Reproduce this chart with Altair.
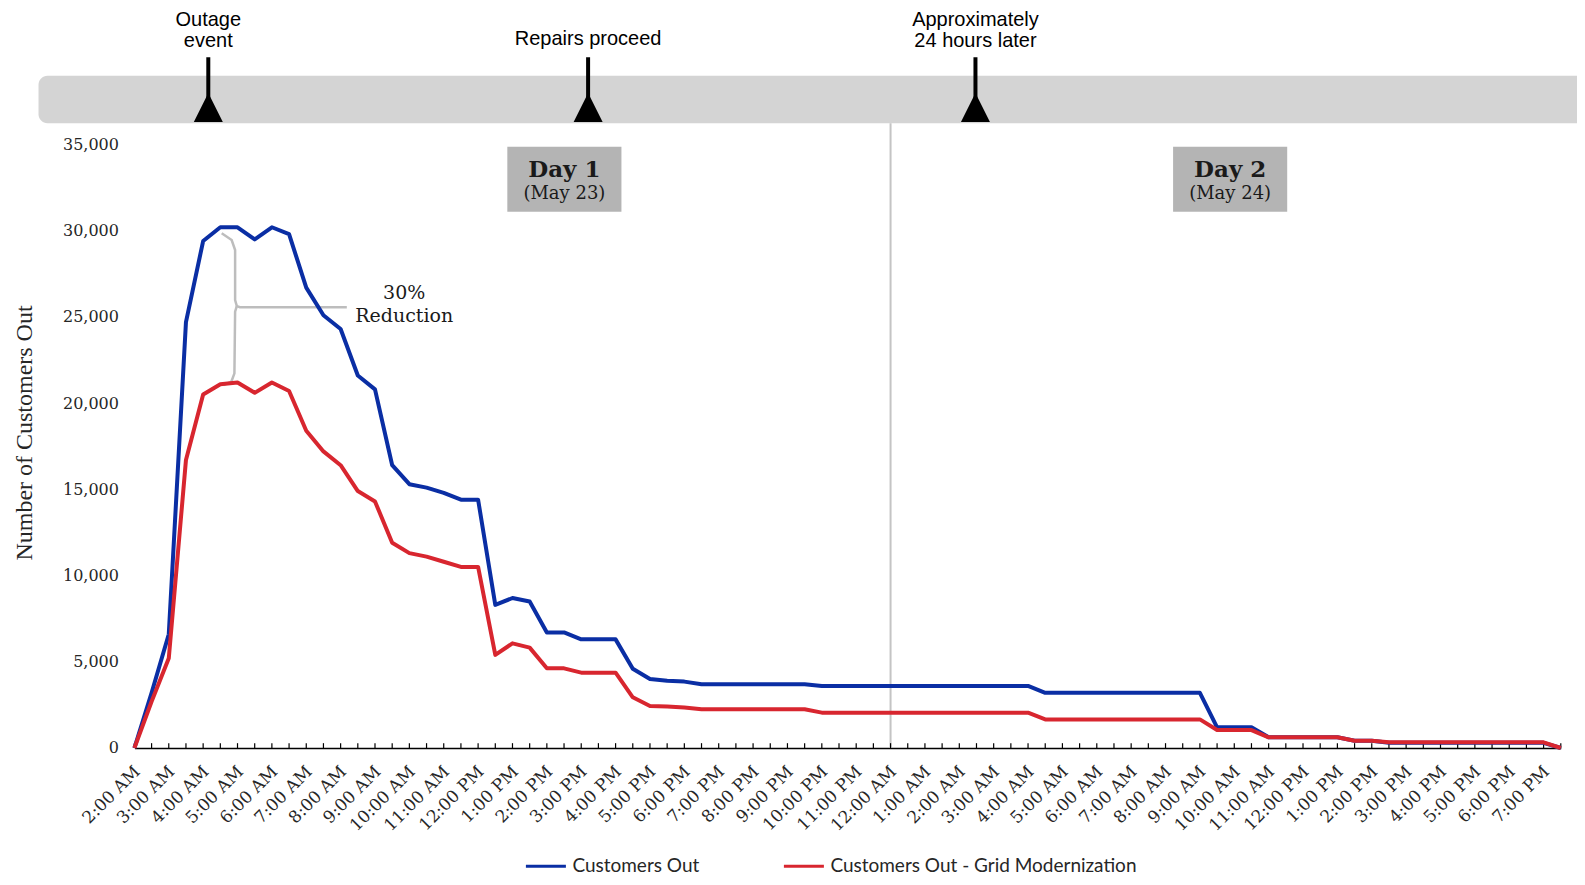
import json
import altair as alt
import pandas as pd

# ---------------- data ----------------
HOUR_LABELS = [
    "2:00 AM", "3:00 AM", "4:00 AM", "5:00 AM", "6:00 AM", "7:00 AM", "8:00 AM",
    "9:00 AM", "10:00 AM", "11:00 AM", "12:00 PM", "1:00 PM", "2:00 PM", "3:00 PM",
    "4:00 PM", "5:00 PM", "6:00 PM", "7:00 PM", "8:00 PM", "9:00 PM", "10:00 PM",
    "11:00 PM", "12:00 AM", "1:00 AM", "2:00 AM", "3:00 AM", "4:00 AM", "5:00 AM",
    "6:00 AM", "7:00 AM", "8:00 AM", "9:00 AM", "10:00 AM", "11:00 AM", "12:00 PM",
    "1:00 PM", "2:00 PM", "3:00 PM", "4:00 PM", "5:00 PM", "6:00 PM", "7:00 PM",
]

# half-hourly readings starting 2:00 AM May 23
CUSTOMERS_OUT = [
    0, 3200, 6600, 24700, 29400, 30200, 30200, 29500, 30200, 29800,
    26700, 25100, 24300, 21600, 20800, 16400, 15300, 15100, 14800, 14400,
    14400, 8300, 8700, 8500, 6700, 6700, 6300, 6300, 6300, 4600,
    4000, 3900, 3850, 3700, 3700, 3700, 3700, 3700, 3700, 3700,
    3600, 3600, 3600, 3600, 3600, 3600, 3600, 3600, 3600, 3600,
    3600, 3600, 3600, 3200, 3200, 3200, 3200, 3200, 3200, 3200,
    3200, 3200, 3200, 1200, 1200, 1200, 620, 620, 620, 620,
    620, 420, 420, 300, 300, 300, 300, 300, 300, 300,
    300, 300, 300, 0,
]
CUSTOMERS_OUT_GRID = [
    0, 2700, 5200, 16700, 20500, 21100, 21200, 20600, 21200, 20700,
    18400, 17200, 16400, 14900, 14300, 11900, 11300, 11100, 10800, 10500,
    10500, 5400, 6070, 5820, 4620, 4620, 4370, 4370, 4370, 2940,
    2440, 2400, 2350, 2250, 2250, 2250, 2250, 2250, 2250, 2250,
    2050, 2050, 2050, 2050, 2050, 2050, 2050, 2050, 2050, 2050,
    2050, 2050, 2050, 1660, 1660, 1660, 1660, 1660, 1660, 1660,
    1660, 1660, 1660, 1040, 1040, 1040, 620, 620, 620, 620,
    620, 420, 420, 330, 330, 330, 330, 330, 330, 330,
    330, 330, 330, 0,
]
SERIES_NAMES = ["Customers Out", "Customers Out - Grid Modernization"]
SERIES_COLORS = ["#0a2ea4", "#d8262f"]

Y_TICKS = [0, 5000, 10000, 15000, 20000, 25000, 30000, 35000]

EVENT_TEXT = ["Outage", "event", "Repairs proceed", "Approximately", "24 hours later"]
EVENT_TEXT_HOUR = [2.15, 2.15, 13.2, 24.47, 24.47]
EVENT_TEXT_LEVEL = [42230, 40980, 41090, 42230, 40980]
EVENT_HOURS = [2.15, 13.2, 24.47]

DAY_TITLES = ["Day 1", "Day 2"]
DAY_DATES = ["(May 23)", "(May 24)"]
DAY_CENTERS = [12.51, 31.88]
MIDNIGHT_HOUR = 22

REDUCTION_TEXT = ["30%", "Reduction"]

# ---------------- tables ----------------
n = len(CUSTOMERS_OUT)
hours = [i * 0.5 for i in range(n)]
lines_df = pd.DataFrame({
    "hour": hours + hours,
    "customers": CUSTOMERS_OUT + CUSTOMERS_OUT_GRID,
    "series": [SERIES_NAMES[0]] * n + [SERIES_NAMES[1]] * n,
})
ticks_df = pd.DataFrame({"hour": hours})
events_df = pd.DataFrame({"hour": EVENT_HOURS})
event_text_df = pd.DataFrame({"hour": EVENT_TEXT_HOUR, "level": EVENT_TEXT_LEVEL, "label": EVENT_TEXT})
days_df = pd.DataFrame({"center": DAY_CENTERS, "title": DAY_TITLES, "date": DAY_DATES})
days_df["x1"] = days_df["center"] - 1.66
days_df["x2"] = days_df["center"] + 1.66

brace_df = pd.DataFrame({
    "hour": [2.54, 2.83, 2.93, 2.93, 2.98, 3.07, 6.18,
             2.98, 2.93, 2.91, 2.82, 2.59],
    "level": [29850, 29460, 28880, 25980, 25630, 25560, 25560,
              25630, 25300, 21730, 21240, 21050],
    "part": [0] * 7 + [1] * 5,
    "seq": list(range(7)) + list(range(5)),
})
reduction_df = pd.DataFrame({"hour": [7.85, 7.85], "level": [26380, 25030], "label": REDUCTION_TEXT})

# ---------------- scales & axes (shared by every layer) ----------------
SERIF = "DejaVu Serif"
SANS = "Liberation Sans"
TXT = "#262626"

XS = alt.Scale(domain=[0, 41.5], nice=False, zero=False)
YS = alt.Scale(domain=[0, 35000], nice=False, zero=False)

label_expr = json.dumps(HOUR_LABELS) + "[datum.value]"
X_AXIS = alt.Axis(
    values=list(range(len(HOUR_LABELS))), labelExpr=label_expr, labelAngle=-45,
    labelFont=SERIF, labelFontSize=17, labelColor=TXT, labelPadding=15, labelOffset=-3,
    labelOverlap=False, labelFlush=False, ticks=False, grid=False,
    domainColor="black", domainWidth=1.5, title=None,
)
Y_AXIS = alt.Axis(
    values=Y_TICKS, labelExpr="format(datum.value, ',')", grid=False, domain=False, ticks=False,
    labelFont=SERIF, labelFontSize=16, labelColor=TXT, labelPadding=16,
    title="Number of Customers Out", titleFont="Liberation Serif", titleFontSize=24,
    titleFontWeight="normal", titleColor=TXT, titleX=-110, titleY=288,
    titleAngle=270, titleAlign="center", titleBaseline="middle",
)


def X(field=None, datum=None):
    if datum is not None:
        return alt.X(datum=datum, scale=XS, axis=X_AXIS)
    return alt.X(field, scale=XS, axis=X_AXIS)


def Y(field=None, datum=None):
    if datum is not None:
        return alt.Y(datum=datum, scale=YS, axis=Y_AXIS)
    return alt.Y(field, scale=YS, axis=Y_AXIS)


one = pd.DataFrame({"k": [0]})

bar = alt.Chart(one).mark_rect(color="#d4d4d4", cornerRadius=9).encode(
    x=X(datum=-2.79), x2=alt.X2(datum=43.5),
    y=Y(datum=36230), y2=alt.Y2(datum=38980),
)

event_rules = alt.Chart(events_df).mark_rule(color="black", strokeWidth=4).encode(
    x=X("hour:Q"), y=Y(datum=37300), y2=alt.Y2(datum=40060),
)

triangles = alt.Chart(events_df).mark_point(
    shape="M-1,1L0,-1L1,1Z", filled=True, size=841, color="black", opacity=1, strokeWidth=0
).encode(x=X("hour:Q"), y=Y(datum=37150))

event_text = alt.Chart(event_text_df).mark_text(
    font=SANS, fontSize=20, color="black", baseline="middle", align="center"
).encode(x=X("hour:Q"), y=Y("level:Q"), text="label:N")

midnight = alt.Chart(one).mark_rule(color="#c4c4c4", strokeWidth=2).encode(
    x=X(datum=MIDNIGHT_HOUR), y=Y(datum=0), y2=alt.Y2(datum=36230),
)

day_boxes = alt.Chart(days_df).mark_rect(color="#b4b4b4").encode(
    x=X("x1:Q"), x2="x2:Q", y=Y(datum=31100), y2=alt.Y2(datum=34870),
)
day_titles = alt.Chart(days_df).mark_text(
    font=SERIF, fontSize=23, fontWeight="bold", color="#1a1a1a", baseline="middle"
).encode(x=X("center:Q"), y=Y(datum=33500), text="title:N")
day_dates = alt.Chart(days_df).mark_text(
    font=SERIF, fontSize=18, color="#1a1a1a", baseline="middle"
).encode(x=X("center:Q"), y=Y(datum=32130), text="date:N")

brace = alt.Chart(brace_df).mark_line(color="#bdbdbd", strokeWidth=2.5).encode(
    x=X("hour:Q"), y=Y("level:Q"), detail="part:N", order="seq:Q",
)
reduction = alt.Chart(reduction_df).mark_text(
    font=SERIF, fontSize=19, color="#1a1a1a", baseline="middle"
).encode(x=X("hour:Q"), y=Y("level:Q"), text="label:N")

ticks = alt.Chart(ticks_df).mark_rule(color="black", strokeWidth=1.2).encode(
    x=X("hour:Q"), y=Y(datum=0), y2=alt.Y2(datum=280),
)

lines = alt.Chart(lines_df).mark_line(strokeWidth=4, strokeJoin="round").encode(
    x=X("hour:Q"),
    y=Y("customers:Q"),
    color=alt.Color(
        "series:N",
        scale=alt.Scale(domain=SERIES_NAMES, range=SERIES_COLORS),
        legend=alt.Legend(
            orient="none", legendX=390, legendY=700, direction="horizontal", title=None,
            symbolType="stroke", symbolSize=1600, symbolStrokeWidth=3, labelOffset=5,
            labelFont="Lato", labelFontSize=19, labelColor=TXT, labelLimit=500,
            columnPadding=78, padding=0,
        ),
    ),
    order=alt.Order("series:N"),
)

chart = alt.layer(
    bar, midnight, event_rules, triangles, event_text, day_boxes, day_titles, day_dates,
    brace, reduction, ticks, lines,
).properties(
    width=1426.4,
    height=603.5,
    padding={"left": 126.4, "top": 136.5, "right": 16, "bottom": 129},
    autosize=alt.AutoSizeParams(type="none"),
).configure_view(stroke=None)

chart.save("out.html", embed_options={"renderer": "svg", "actions": False})
